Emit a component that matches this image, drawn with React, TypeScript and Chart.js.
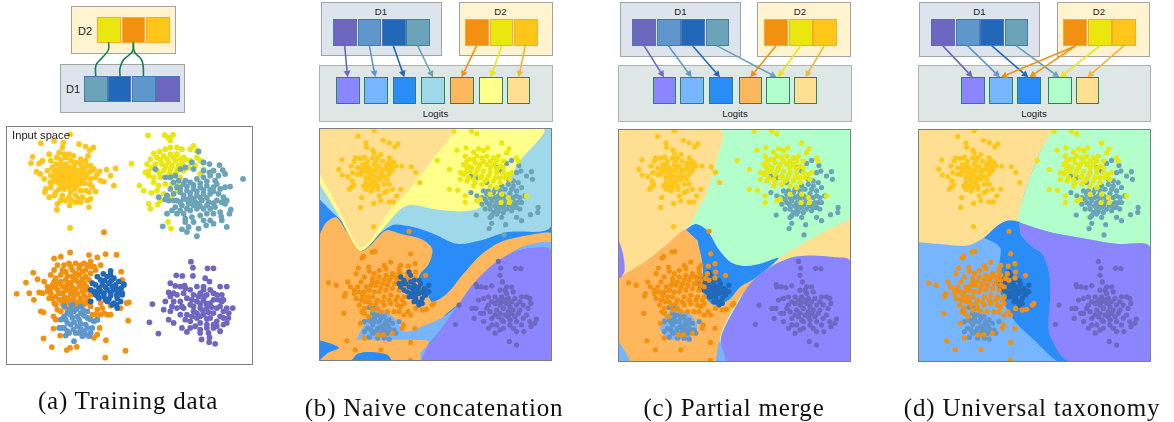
import React, { useEffect, useRef } from "react";
import { Chart, registerables } from "chart.js";

Chart.register(...registerables);

type P = number[];

// ---------- colours ----------
const C = {
  purple: "#6d67c0", steel: "#5f96cc", navy: "#2169b8", teal: "#6ba4b8",
  orange: "#f2910f", yellow: "#e9e70d", gold: "#fec619",
  rPurple: "#8b85ff", rSky: "#77b5ff", rBlue: "#2a8cf7", rCyan: "#9fd8e9",
  rOrange: "#ffb75e", rYellow: "#ffff8c", rGold: "#ffdf91", rMint: "#b3ffcc",
};

// ---------- training data (panel a) ----------
const trainGold: P[] = [[208,400],[120,427],[160,420],[188,425],[185,440],[235,430],[255,437],[278,440],[268,448],[95,468],[90,487],[115,488],[107,513],[118,520],[130,535],[135,565],[132,575],[145,590],[170,610],[168,628],[207,615],[265,620],[270,595],[285,573],[310,543],[340,555],[345,503],[318,507],[330,525],[297,512],[175,455],[205,460],[145,460],[150,480],[125,480],[208,683],[165,490],[180,478],[195,470],[210,480],[225,485],[240,490],[255,480],[270,495],[280,505],[160,510],[175,505],[190,500],[205,500],[220,505],[235,510],[250,505],[265,515],[150,525],[165,525],[180,525],[195,520],[210,522],[225,525],[240,530],[255,530],[270,535],[155,545],[172,545],[188,542],[205,540],[220,545],[238,550],[252,548],[268,552],[285,530],[175,565],[190,565],[205,560],[222,565],[240,570],[255,570],[150,560],[165,575],[185,585],[205,590],[225,585],[245,590],[260,600],[210,575],[195,600],[225,605],[240,605],[172,515],[186,512],[198,510],[212,512],[228,515],[244,518],[258,520],[160,535],[174,535],[188,532],[202,530],[218,535],[232,538],[246,540],[180,555],[196,552],[212,552],[228,555],[168,470],[190,460],[218,465],[240,475],[262,465],[272,510],[290,520],[300,540],[275,560],[265,575],[155,500],[140,510],[148,545],[160,585],[180,600],[212,600],[235,595],[195,490],[220,495],[245,500],[258,495],[180,490]];
const trainYellow: P[] = [[443,403],[493,402],[503,410],[518,402],[510,418],[393,489],[417,555],[430,570],[453,577],[445,610],[450,625],[472,612],[503,665],[512,685],[580,435],[570,445],[545,445],[530,440],[510,440],[495,445],[478,452],[460,458],[450,475],[440,490],[445,512],[435,515],[470,470],[490,465],[510,460],[530,460],[550,470],[570,480],[590,470],[610,485],[640,510],[465,490],[485,490],[505,485],[525,480],[545,490],[565,500],[585,495],[470,510],[490,510],[510,505],[530,505],[550,510],[480,530],[500,530],[520,525],[540,530],[460,545],[475,555],[495,550],[515,550],[535,555],[600,520],[470,570],[490,580],[510,590],[445,525],[610,505],[500,475],[520,470],[540,475],[480,478],[495,498],[515,495],[535,495],[478,520],[508,518],[528,515],[455,500],[590,450],[600,480],[460,530],[480,600],[530,570],[555,475]];
const trainTeal: P[] = [[729,535],[595,452],[610,485],[628,490],[658,493],[668,508],[675,520],[655,525],[628,515],[690,558],[680,600],[692,628],[688,640],[663,648],[665,660],[680,680],[630,660],[618,675],[590,708],[595,685],[560,695],[545,687],[500,640],[487,678],[515,630],[475,590],[495,597],[465,505],[495,530],[510,530],[540,505],[575,485],[555,500],[580,505],[525,525],[555,540],[530,560],[550,550],[570,545],[590,535],[610,530],[630,525],[645,540],[660,565],[670,590],[510,565],[520,580],[540,575],[560,570],[580,565],[600,560],[620,555],[640,560],[655,580],[500,585],[530,600],[550,595],[570,590],[590,585],[610,580],[630,580],[650,600],[665,605],[525,620],[545,615],[565,610],[585,605],[605,600],[625,605],[645,620],[550,640],[570,630],[590,625],[610,625],[630,625],[555,655],[575,650],[600,645],[620,640],[580,665],[555,665],[610,660],[640,670],[575,600],[595,610],[560,625],[540,630],[540,562],[560,558],[580,553],[600,548],[620,542],[640,572],[550,585],[570,578],[590,573],[610,568],[630,568],[540,605],[560,598],[580,595],[600,592],[620,592],[640,608],[580,615],[600,618],[620,615],[520,545],[535,540],[610,510],[640,510],[650,550],[675,560],[675,610],[660,635],[640,640],[565,680],[530,640],[520,600],[505,600]];
const trainOrange: P[] = [[208,757],[160,775],[180,770],[265,765],[290,772],[315,762],[348,764],[310,696],[97,818],[75,848],[47,882],[85,880],[99,900],[115,878],[125,880],[110,838],[130,845],[140,860],[120,935],[128,938],[158,950],[165,960],[158,987],[128,1017],[153,1043],[178,1008],[198,1052],[208,1045],[228,1042],[316,1022],[375,1054],[314,1075],[383,963],[385,908],[378,910],[360,925],[330,918],[330,945],[297,985],[290,1005],[362,815],[365,840],[320,945],[280,1015],[170,795],[160,810],[150,825],[190,795],[205,790],[225,790],[250,790],[270,785],[300,795],[285,810],[165,835],[180,825],[195,815],[215,810],[235,805],[255,810],[270,800],[155,855],[175,850],[195,840],[215,830],[235,825],[255,830],[270,820],[150,880],[170,870],[190,860],[210,850],[230,845],[250,850],[265,840],[145,895],[165,890],[185,880],[205,870],[225,870],[245,875],[265,870],[160,910],[180,900],[200,895],[220,890],[240,895],[260,895],[170,930],[190,920],[210,915],[230,915],[250,915],[270,920],[290,930],[310,940],[275,945],[290,960],[300,910],[180,845],[200,828],[225,820],[245,815],[165,862],[185,860],[205,848],[225,838],[245,838],[258,860],[175,880],[195,872],[215,862],[235,860],[250,862],[175,900],[190,892],[210,882],[230,882],[250,885],[270,885],[185,912],[200,908],[220,905],[240,905],[260,908],[185,810],[210,800],[240,795],[260,795],[280,800],[160,845],[150,865],[195,900],[215,900],[235,905],[255,905],[180,935],[200,930],[220,925],[300,945],[305,925],[285,945],[190,905],[165,915],[155,895],[140,875],[220,840],[240,852],[258,870],[215,875],[200,855]];
const trainNavy: P[] = [[330,813],[308,822],[290,830],[275,850],[270,870],[270,905],[285,885],[295,895],[315,900],[335,915],[350,925],[370,853],[365,880],[300,840],[320,830],[340,835],[355,845],[285,855],[305,855],[325,850],[345,855],[362,865],[280,875],[300,875],[320,870],[340,870],[358,878],[292,890],[310,890],[330,888],[350,895],[360,905],[320,905],[340,910],[348,915],[330,825],[370,855],[365,885],[312,842],[332,842],[295,865],[315,862],[335,860],[352,868],[290,878],[310,880],[330,878],[348,885],[325,898]];
const trainSteel: P[] = [[192,920],[215,915],[240,920],[260,935],[180,960],[200,940],[220,935],[240,940],[260,955],[280,965],[175,985],[195,960],[215,955],[235,960],[255,975],[275,985],[190,985],[210,975],[230,980],[250,995],[270,1000],[195,1008],[205,1000],[225,1000],[245,1010],[220,1025],[182,985],[290,960],[190,918],[265,1010],[208,928],[228,928],[248,932],[190,950],[210,945],[230,950],[250,948],[270,960],[200,970],[220,968],[240,972],[260,985],[240,988],[218,990],[200,995],[235,1000],[255,1005]];
const trainPurple: P[] = [[572,785],[578,803],[622,805],[640,805],[528,826],[546,828],[578,828],[456,913],[447,968],[474,1002],[604,1020],[628,1014],[627,1028],[645,1033],[698,925],[686,940],[685,955],[680,860],[510,850],[525,858],[540,860],[553,857],[615,835],[628,845],[660,860],[505,878],[495,905],[490,930],[510,935],[505,960],[520,970],[545,985],[570,985],[560,997],[600,990],[625,1000],[640,985],[660,995],[680,970],[670,975],[665,885],[530,885],[550,880],[570,870],[590,860],[610,860],[630,870],[650,885],[665,905],[520,905],[540,905],[560,895],[580,885],[600,880],[620,885],[640,900],[660,920],[530,925],[550,925],[570,915],[590,905],[610,900],[630,910],[650,925],[670,935],[540,945],[560,945],[580,935],[600,925],[620,925],[640,940],[660,950],[570,965],[590,955],[610,945],[630,955],[650,965],[600,970],[620,975],[585,980],[640,975],[575,900],[595,890],[612,890],[580,920],[600,912],[618,912],[635,922],[590,940],[608,932],[625,938],[600,950],[620,958],[510,890],[520,880],[555,865],[610,870],[640,880],[655,900],[670,900],[545,920],[515,920],[555,960],[575,950],[600,1000],[620,985],[650,980],[670,955],[680,925]];

// ---------- test data (panels b, c, d) ----------
const testGold: P[] = [[220,388],[170,405],[195,425],[197,438],[247,417],[265,425],[282,437],[291,428],[122,476],[113,505],[123,522],[140,527],[153,540],[158,552],[150,560],[145,565],[182,590],[179,620],[218,608],[218,678],[265,603],[278,603],[288,585],[300,565],[303,495],[332,497],[345,514],[357,545],[160,480],[163,470],[190,468],[178,472],[216,447],[220,455],[185,490],[200,480],[215,470],[230,470],[245,480],[265,470],[280,485],[190,510],[205,500],[220,490],[235,495],[250,505],[270,495],[285,495],[195,530],[210,520],[225,510],[240,520],[265,520],[195,545],[210,540],[225,540],[240,535],[215,560],[230,555],[210,570],[195,565],[235,585],[250,575],[265,550],[275,565],[240,600],[170,500],[180,520],[192,498],[212,508],[228,500],[243,508],[258,492],[275,508],[262,505],[180,505],[202,515],[218,525],[232,528],[250,525],[205,530],[218,548],[232,565],[205,555],[188,555],[258,535],[250,550],[262,485],[272,480],[196,490],[240,460],[225,480],[258,570],[170,520],[155,515],[150,495]];
const testYellow: P[] = [[461,390],[514,390],[530,398],[410,478],[470,447],[497,440],[520,453],[535,443],[550,448],[563,440],[605,425],[627,443],[620,455],[650,470],[655,480],[447,505],[447,565],[472,568],[495,585],[495,605],[530,600],[603,605],[628,605],[680,585],[495,465],[510,475],[530,465],[545,470],[560,465],[580,470],[595,465],[610,480],[490,490],[505,495],[525,485],[540,490],[560,490],[580,490],[600,495],[495,515],[510,510],[530,510],[550,510],[570,515],[590,515],[610,515],[625,520],[480,535],[500,540],[520,535],[540,530],[560,535],[580,540],[600,530],[630,535],[520,555],[545,550],[570,555],[590,560],[605,580],[570,580],[540,595],[625,590],[500,480],[520,475],[515,500],[535,500],[550,480],[570,480],[590,480],[570,500],[590,503],[500,500],[480,515],[525,520],[545,525],[565,525],[490,520],[585,530],[610,500],[505,530],[525,545],[555,540],[600,545],[615,530],[635,515]];
const testTeal: P[] = [[657,493],[635,478],[620,487],[650,515],[663,510],[680,525],[695,512],[698,535],[715,620],[714,635],[692,642],[675,585],[665,660],[650,650],[617,672],[567,684],[612,703],[575,668],[570,650],[528,643],[512,575],[530,585],[512,525],[530,530],[560,545],[590,500],[605,510],[640,540],[655,545],[665,560],[625,550],[600,570],[615,565],[635,565],[650,570],[660,590],[545,590],[560,580],[580,575],[595,585],[610,585],[625,590],[640,590],[655,605],[545,610],[560,605],[575,600],[590,605],[605,605],[620,600],[635,610],[650,620],[570,625],[590,625],[605,620],[620,625],[575,645],[590,640],[605,650],[635,630],[565,570],[550,570],[660,625],[640,555],[650,585],[570,590],[585,590],[600,595],[615,590],[630,578],[645,605],[555,595],[568,612],[583,615],[597,615],[612,612],[628,615],[640,620],[580,635],[595,632],[610,635],[600,580],[585,565],[625,535],[605,555],[555,625],[665,605]];
const testNavy: P[] = [[325,815],[300,830],[310,840],[330,825],[355,840],[385,855],[385,875],[375,885],[365,910],[355,915],[340,905],[325,890],[310,870],[325,860],[340,855],[355,860],[370,865],[340,875],[355,880],[365,895],[335,890],[345,895],[350,905],[300,860],[320,875],[295,850],[330,845],[360,850],[335,865],[350,870],[360,875],[345,860],[330,880],[315,850],[345,885],[370,880],[360,905],[375,870],[305,850],[340,840]];
const testSteel: P[] = [[205,922],[220,925],[235,945],[250,950],[265,960],[190,965],[205,960],[220,955],[235,965],[250,975],[265,985],[280,990],[200,985],[215,975],[230,985],[245,990],[260,1000],[285,1000],[295,965],[205,1012],[230,1015],[250,1015],[265,1018],[190,995],[215,1000],[235,1002],[275,970],[230,1000],[215,940],[225,945],[240,955],[255,965],[225,965],[210,965],[240,980],[255,990],[210,990],[225,995],[270,990],[245,1005],[260,975]];
const testOrange: P[] = [[325,692],[213,755],[222,753],[188,768],[183,773],[172,803],[165,820],[203,800],[205,813],[250,795],[270,785],[295,805],[323,797],[343,790],[330,760],[345,815],[343,833],[325,840],[375,825],[82,848],[105,855],[140,845],[148,860],[133,880],[130,888],[160,870],[128,940],[183,935],[190,940],[202,950],[178,970],[190,1015],[137,1023],[163,1050],[240,1050],[232,1005],[248,1005],[305,985],[308,975],[343,985],[330,1028],[329,1082],[400,910],[395,915],[378,928],[365,930],[345,925],[330,945],[310,945],[322,935],[275,1000],[175,875],[195,860],[215,845],[235,830],[255,825],[275,820],[295,815],[285,830],[165,895],[185,885],[205,870],[225,855],[245,850],[265,840],[285,850],[300,840],[175,915],[195,905],[215,890],[235,875],[255,870],[275,865],[295,870],[190,925],[210,915],[230,900],[250,890],[270,885],[290,890],[310,890],[230,925],[250,915],[270,910],[290,915],[310,910],[260,935],[280,935],[300,920],[215,835],[320,820],[300,795],[180,900],[200,890],[220,875],[240,862],[260,855],[280,850],[300,855],[190,875],[210,855],[230,845],[250,838],[270,830],[290,838],[185,900],[205,905],[225,910],[245,905],[265,900],[285,900],[305,900],[170,860],[160,880],[215,930],[240,935],[295,935],[255,805],[235,810],[220,820],[190,830],[180,845],[310,860],[315,835],[300,825]];
const testPurple: P[] = [[595,783],[602,803],[647,804],[663,805],[600,825],[528,853],[530,860],[543,860],[557,862],[575,856],[607,845],[476,915],[465,973],[515,925],[527,925],[542,940],[522,955],[628,1025],[650,1036],[710,957],[705,970],[693,980],[672,995],[690,895],[693,910],[620,860],[635,860],[620,880],[605,890],[585,890],[565,890],[550,895],[565,915],[585,910],[605,905],[625,895],[645,895],[665,890],[680,890],[650,915],[670,915],[685,925],[630,920],[610,925],[590,930],[570,935],[550,940],[575,955],[595,950],[615,945],[635,940],[655,940],[680,945],[590,975],[610,965],[630,960],[650,965],[670,955],[550,965],[565,985],[585,1000],[610,985],[630,975],[650,995],[640,985],[690,965],[600,870],[615,870],[640,875],[575,905],[595,900],[615,900],[635,905],[660,905],[600,915],[620,910],[640,930],[660,930],[600,940],[625,935],[585,945],[560,925],[605,960],[625,950],[645,950],[665,975],[600,990],[575,975],[535,900]];

// ---------- decision regions ----------
const bBlue: P[] = [[56,383],[754,383],[754,1081],[56,1081]];
const bCyan: P[] = [[56,383],[754,383],[754,677],[620,695],[540,720],[470,730],[400,700],[340,680],[280,672],[254,685],[200,720],[110,650],[56,597]];
const bYellow: P[] = [[56,383],[730,383],[660,480],[600,570],[540,620],[480,632],[400,625],[330,612],[300,625],[250,680],[205,735],[178,752],[160,735],[110,640],[56,550]];
const bGold: P[] = [[56,383],[455,383],[400,470],[330,560],[260,640],[215,710],[180,742],[160,720],[110,620],[56,520]];
const bOrange: P[] = [[56,700],[75,665],[105,650],[140,700],[178,752],[205,738],[255,690],[300,700],[360,715],[395,745],[385,790],[355,830],[380,880],[395,905],[440,880],[490,820],[540,765],[600,725],[680,705],[754,697],[754,725],[680,735],[600,780],[540,840],[490,900],[430,950],[387,1025],[360,1081],[56,1081]];
const bSky: P[] = [[165,1020],[205,950],[240,928],[285,960],[310,995],[350,985],[430,950],[490,900],[540,840],[600,780],[680,735],[754,725],[754,750],[680,745],[620,765],[570,800],[520,850],[470,920],[420,990],[380,1040],[362,1081],[360,1060],[387,1025],[330,1020]];
const bPurple: P[] = [[362,1081],[380,1040],[420,990],[470,920],[520,850],[570,800],[620,765],[680,745],[754,750],[754,1081]];
const bBlobLeft: P[] = [[56,1022],[85,1030],[113,1045],[80,1060],[56,1081]];
const bBlobBottom: P[] = [[152,1081],[170,1062],[210,1057],[260,1065],[272,1081]];

const cMint: P[] = [[53,386],[751,386],[751,1084],[53,1084]];
const cGold: P[] = [[53,386],[360,386],[350,470],[320,570],[290,630],[265,675],[200,730],[130,785],[70,825],[53,835]];
const cGoldRight: P[] = [[751,655],[680,690],[600,735],[535,775],[510,797],[580,768],[640,765],[700,770],[751,782]];
const cBlue: P[] = [[255,687],[285,670],[320,690],[350,740],[390,785],[430,797],[480,790],[535,773],[470,830],[420,860],[385,900],[340,915],[310,880],[305,790],[290,720]];
const cOrange: P[] = [[53,835],[70,822],[130,785],[200,730],[255,687],[285,715],[305,770],[305,830],[320,890],[340,915],[385,900],[420,860],[480,812],[535,775],[500,800],[420,890],[390,940],[365,990],[355,1030],[345,1084],[85,1084],[53,1025]];
const cPurple: P[] = [[375,1084],[360,1040],[365,1000],[400,930],[450,850],[510,800],[580,770],[640,765],[700,770],[751,782],[751,1084]];
const cSkyRight: P[] = [[355,1020],[375,1084],[345,1084]];
const cSkyLeft: P[] = [[53,1025],[85,1084],[53,1084]];
const cSkyCore: P[] = [[175,985],[190,950],[230,930],[270,945],[290,985],[270,1010],[230,1020],[195,1015]];
const cPurpleEdge: P[] = [[53,720],[65,760],[70,810],[60,830],[53,835]];

const dSky: P[] = [[53,386],[751,386],[751,1084],[53,1084]];
const dGold: P[] = [[53,386],[457,386],[420,450],[385,540],[365,600],[355,662],[320,660],[290,675],[250,710],[200,735],[130,732],[53,725]];
const dMint: P[] = [[457,386],[751,386],[751,740],[650,730],[560,715],[450,695],[355,662],[365,600],[385,540],[420,450]];
const dBlue: P[] = [[250,712],[290,675],[320,660],[355,665],[360,700],[390,735],[425,760],[445,810],[450,880],[445,960],[450,1010],[505,1084],[470,1084],[400,1020],[340,960],[300,880],[295,800],[300,745],[285,728]];
const dPurple: P[] = [[355,665],[450,695],[560,715],[650,730],[751,740],[751,1084],[505,1084],[450,1010],[445,960],[450,880],[445,810],[425,760],[390,735],[360,700]];

// ---------- diagram labels ----------
const captions = ["(a) Training data", "(b) Naive concatenation", "(c) Partial merge", "(d) Universal taxonomy"];

const xy = (a: P[]) => a.map(([x, y]) => ({ x, y }));
const region = (a: P[], color: string) => ({
  data: xy(a), showLine: true, fill: "shape", backgroundColor: color, borderColor: color,
  borderWidth: 0, pointRadius: 0, tension: 0.3,
});
const dots = (a: P[], color: string, r: number) => ({
  data: xy(a), showLine: false, backgroundColor: color, borderWidth: 0, pointRadius: r,
});

const baseOptions = (xMin: number, xMax: number, yMin: number, yMax: number): any => ({
  animation: false, responsive: false, maintainAspectRatio: false, devicePixelRatio: 1,
  layout: { padding: 0, autoPadding: false },
  plugins: { legend: { display: false }, tooltip: { enabled: false } },
  events: [],
  scales: {
    x: { type: "linear", min: xMin, max: xMax, display: false },
    y: { type: "linear", min: yMin, max: yMax, reverse: true, display: false },
  },
});

function ChartCanvas({ style, width, height, datasets, range }: any) {
  const ref = useRef<HTMLCanvasElement>(null);
  useEffect(() => {
    // Chart.js paints the first dataset on top, so lists here go back-to-front
    const chart = new Chart(ref.current!, {
      type: "scatter",
      data: { datasets: [...datasets].reverse() },
      options: baseOptions(range[0], range[1], range[2], range[3]),
    });
    return () => chart.destroy();
  }, []);
  return <canvas ref={ref} width={width} height={height} style={{ display: "block", ...style }} />;
}

const abs = (left: number, top: number, width: number, height: number) => ({
  position: "absolute" as const, left, top, width, height, boxSizing: "border-box" as const,
});

function Box({ x0, y0, x1, y1, bg, border = "#a3a3a3" }: any) {
  return <div style={{ ...abs(x0, y0, x1 - x0, y1 - y0), background: bg, border: `1px solid ${border}` }} />;
}
function Cell({ x0, y0, x1, y1, bg, border }: any) {
  return <div style={{ ...abs(x0, y0, x1 - x0, y1 - y0), background: bg, border: `1px solid ${border}` }} />;
}
function Label({ cx, cy, text, size = 9.6 }: any) {
  return (
    <div style={{ position: "absolute", left: cx - 60, top: cy - 10, width: 120, height: 20, lineHeight: "20px", textAlign: "center",
      font: `${size}px/20px "Liberation Sans", sans-serif`, color: "#222", whiteSpace: "nowrap" }}>{text}</div>
  );
}

const D1_COL = [C.purple, C.steel, C.navy, C.teal];
const D2_COL = [C.orange, C.yellow, C.gold];

function row(xs: number[][], y0: number, y1: number, colors: string[], border: string) {
  return xs.map((e, i) => <Cell key={i} x0={e[0]} x1={e[1]} y0={y0} y1={y1} bg={colors[i]} border={border} />);
}

// diagram connections, zoom-reading coordinates [x0,y0,x1,y1,colour]
const arrowLayout: { ox: number; list: any[] }[] = [
  { ox: 300, list: [[134,137,143,232,C.purple],[208,137,226,232,C.steel],[280,137,313,232,C.navy],[353,137,399,232,C.teal],[530,137,485,232,C.orange],[605,137,572,232,C.yellow],[676,137,656,232,"#f5b62a"]] },
  { ox: 600, list: [[132,137,192,232,C.purple],[205,137,275,232,C.steel],[278,137,360,232,C.navy],[350,137,530,232,C.teal],[528,137,451,232,C.orange],[602,137,534,232,C.yellow],[673,137,616,232,"#f5b62a"]] },
  { ox: 900, list: [[128,137,218,232,C.purple],[202,137,300,232,C.steel],[275,137,385,232,C.navy],[348,137,478,232,C.teal],[528,137,302,232,C.orange],[528,137,388,232,C.orange],[600,137,480,232,C.yellow],[672,137,562,232,"#f5b62a"]] },
];
const greenCurves: P[][] = [
  [[326,127],[325,150],[305,175],[288,195],[287,228]],
  [[400,127],[397,155],[370,180],[360,205],[360,228]],
  [[400,127],[403,155],[425,180],[430,205],[430,228]],
];

function overlayDatasets() {
  const ds: any[] = [];
  for (const curve of greenCurves) {
    ds.push({ data: curve.map(([x, y]) => ({ x: x / 3, y: y / 3 })), showLine: true, borderColor: "#15804f", borderWidth: 1.6, pointRadius: 0, tension: 0.4 });
  }
  for (const { ox, list } of arrowLayout) {
    for (const [a, b, c, d, col] of list) {
      const x0 = a / 3 + ox, y0 = b / 3, x1 = c / 3 + ox, y1 = d / 3;
      const len = Math.hypot(x1 - x0, y1 - y0), ux = (x1 - x0) / len, uy = (y1 - y0) / len;
      const bx = x1 - ux * 6.5, by = y1 - uy * 6.5;
      ds.push({ data: [{ x: x0, y: y0 }, { x: bx, y: by }], showLine: true, borderColor: col, borderWidth: 1.6, pointRadius: 0 });
      ds.push({ data: [{ x: x1, y: y1 }, { x: bx - uy * 3.4, y: by + ux * 3.4 }, { x: bx + uy * 3.4, y: by - ux * 3.4 }], showLine: true, fill: "shape", backgroundColor: col, borderWidth: 0, pointRadius: 0 });
    }
  }
  return ds;
}

const ra = 2.9;
const panelA = [dots(trainGold, C.gold, ra), dots(trainYellow, C.yellow, ra), dots(trainTeal, C.teal, ra), dots(trainOrange, C.orange, ra), dots(trainNavy, C.navy, ra), dots(trainSteel, C.steel, ra), dots(trainPurple, C.purple, ra)];
const r = 2.6;
const panelB = [region(bBlue, C.rBlue), region(bCyan, C.rCyan), region(bYellow, C.rYellow), region(bGold, C.rGold), region(bOrange, C.rOrange), region(bSky, C.rSky), region(bPurple, C.rPurple), region(bBlobLeft, C.rBlue), region(bBlobBottom, C.rBlue),
  dots(testGold, C.gold, r), dots(testTeal, C.teal, r), dots(testYellow, C.yellow, r), dots(testSteel, C.steel, r), dots(testOrange, C.orange, r), dots(testNavy, C.navy, r), dots(testPurple, C.purple, r)];
const panelC = [region(cMint, C.rMint), region(cGold, C.rGold), region(cGoldRight, C.rGold), region(cOrange, C.rOrange), region(cBlue, C.rBlue), region(cPurple, C.rPurple), region(cSkyRight, C.rSky), region(cSkyLeft, C.rSky), region(cSkyCore, C.rSky), region(cPurpleEdge, C.rPurple),
  dots(testGold, C.gold, r), dots(testTeal, C.teal, r), dots(testYellow, C.yellow, r), dots(testSteel, C.steel, r), dots(testNavy, C.navy, r), dots(testOrange, C.orange, r), dots(testPurple, C.purple, r)];
const panelD = [region(dSky, C.rSky), region(dGold, C.rGold), region(dMint, C.rMint), region(dBlue, C.rBlue), region(dPurple, C.rPurple),
  dots(testGold, C.gold, r), dots(testTeal, C.teal, r), dots(testYellow, C.yellow, r), dots(testSteel, C.steel, r), dots(testNavy, C.navy, r), dots(testOrange, C.orange, r), dots(testPurple, C.purple, r)];

function Plot({ x0, y0, x1, y1, range, datasets }: any) {
  const w = x1 - x0, h = y1 - y0;
  return (
    <div style={{ ...abs(x0, y0, w, h), border: "1px solid #7f7f7f", background: "#fff" }}>
      <ChartCanvas width={Math.round(w - 2)} height={Math.round(h - 2)} range={range} datasets={datasets} />
    </div>
  );
}

function Caption({ cx, cy, text }: any) {
  return (
    <div style={{ position: "absolute", left: cx - 200, top: cy - 15, width: 400, height: 30, textAlign: "center",
      font: `25px/30px "Liberation Serif", serif`, letterSpacing: "0.8px", color: "#111", whiteSpace: "nowrap" }}>{text}</div>
  );
}

export default function App() {
  const d1b = "#4a78b4", d2b = "#f3ac2d", gb = "#1f8a5a";
  return (
    <div style={{ position: "fixed", left: 0, top: 0, width: 1174, height: 422, background: "#fff", overflow: "hidden" }}>
      {/* panel a */}
      <Box x0={71} y0={6} x1={176} y1={54} bg="#fff3d0" />
      {row([[97,120.5],[121.5,145],[146,170]], 17, 42.5, [C.yellow, C.orange, C.gold], d2b)}
      <Label cx={85} cy={31} text="D2" size={11} />
      <Box x0={60} y0={64} x1={185} y1={113} bg="#dde4ee" />
      {row([[84,107.5],[108,131],[132,155.5],[156,180]], 76, 101.5, [C.teal, C.navy, C.steel, C.purple], d1b)}
      <Label cx={73} cy={88.5} text="D1" size={11} />
      <Plot x0={6} y0={126} x1={252.5} y1={365} range={[18, 756, 378, 1094]} datasets={panelA} />
      <Label cx={41} cy={135} text="Input space" size={11.2} />

      {/* panel b */}
      <Box x0={321} y0={2} x1={441.5} y1={56} bg="#dde4ee" />
      {row([[333,357],[357.5,381],[382,405.5],[406,429.5]], 19, 46, D1_COL, d1b)}
      <Box x0={459} y0={2} x1={552.5} y1={55.5} bg="#fff3d0" />
      {row([[465,489],[490,513],[514,537.5]], 19, 46, D2_COL, d2b)}
      <Label cx={381} cy={11.5} text="D1" />
      <Label cx={500.5} cy={11.5} text="D2" />
      <Box x0={319} y0={65} x1={552.5} y1={121.5} bg="#dfe6e6" border="#b0b0b0" />
      {row([[336,360],[364,387.5],[392.5,416],[421,445],[450,473.5],[479,503],[506.5,530]], 77, 104, [C.rPurple, C.rSky, C.rBlue, C.rCyan, C.rOrange, C.rYellow, C.rGold], gb)}
      <Label cx={435.5} cy={113.5} text="Logits" />
      <Plot x0={318.5} y0={127.5} x1={551.5} y1={360.5} range={[56, 754, 383, 1081]} datasets={panelB} />

      {/* panel c */}
      <Box x0={620} y0={2} x1={740.5} y1={56.5} bg="#dde4ee" />
      {row([[632,656],[657,680.5],[681,705],[705.5,729]], 19, 46, D1_COL, d1b)}
      <Box x0={757} y0={2} x1={851} y1={56.5} bg="#fff3d0" />
      {row([[764,788],[789,812.5],[813,836.5]], 19, 46, D2_COL, d2b)}
      <Label cx={680.5} cy={11.5} text="D1" />
      <Label cx={800} cy={11.5} text="D2" />
      <Box x0={618} y0={65} x1={852} y1={121.5} bg="#dfe6e6" border="#b0b0b0" />
      {row([[652.5,676],[680,704],[709,732.5],[738.5,762],[766,789.5],[793.5,817]], 77, 104, [C.rPurple, C.rSky, C.rBlue, C.rOrange, C.rMint, C.rGold], gb)}
      <Label cx={735} cy={113.5} text="Logits" />
      <Plot x0={617.5} y0={128.5} x1={850.5} y1={361.5} range={[53, 751, 386, 1084]} datasets={panelC} />

      {/* panel d */}
      <Box x0={919} y0={2} x1={1040} y1={56.5} bg="#dde4ee" />
      {row([[931,955],[956,979.5],[980,1004],[1004.5,1028]], 19, 46, D1_COL, d1b)}
      <Box x0={1056.5} y0={2} x1={1150} y1={56.5} bg="#fff3d0" />
      {row([[1063,1087],[1088,1111.5],[1112,1136]], 19, 46, D2_COL, d2b)}
      <Label cx={979.5} cy={11.5} text="D1" />
      <Label cx={1099} cy={11.5} text="D2" />
      <Box x0={917.5} y0={65} x1={1151} y1={121.5} bg="#dfe6e6" border="#b0b0b0" />
      {row([[961,985],[989,1012.5],[1017,1041],[1048,1071.5],[1075.5,1099]], 77, 104, [C.rPurple, C.rSky, C.rBlue, C.rMint, C.rGold], gb)}
      <Label cx={1034} cy={113.5} text="Logits" />
      <Plot x0={917.5} y0={128.5} x1={1150.5} y1={361.5} range={[53, 751, 386, 1084]} datasets={panelD} />

      {/* connectors over everything in the diagrams */}
      <ChartCanvas width={1174} height={422} range={[0, 1174, 0, 422]} datasets={overlayDatasets()}
        style={{ position: "absolute", left: 0, top: 0, pointerEvents: "none" }} />

      <Caption cx={128} cy={401} text={captions[0]} />
      <Caption cx={434} cy={408} text={captions[1]} />
      <Caption cx={734} cy={408} text={captions[2]} />
      <Caption cx={1032} cy={408} text={captions[3]} />
    </div>
  );
}
